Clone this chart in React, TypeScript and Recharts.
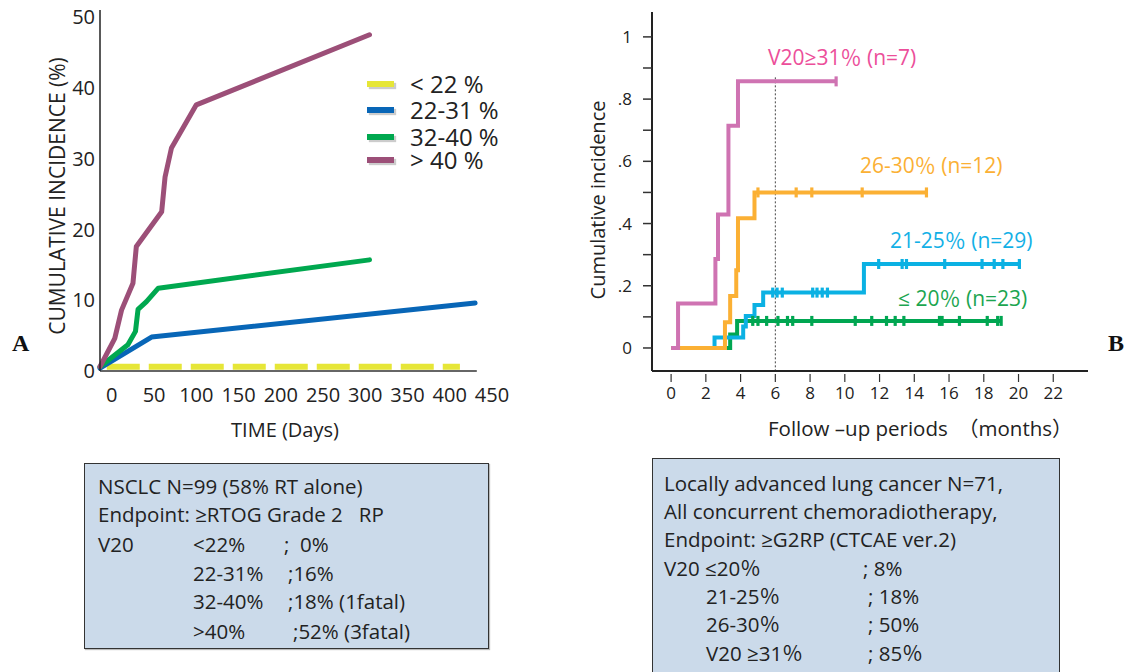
import React from 'react'
import { LineChart, Line, XAxis, YAxis, ReferenceLine } from 'recharts'

const FONT = "'Open Sans', 'Noto Sans CJK JP', sans-serif"

// ---- Panel A: cumulative incidence (%) vs days ----
const dayTicks = [0, 50, 100, 150, 200, 250, 300, 350, 400, 450]
const pctTicks = [0, 10, 20, 30, 40, 50]

const under22Days = [-6, 412]
const under22Inc = [0.6, 0.6]
const v22to31Days = [-14, 47, 430]
const v22to31Inc = [0.4, 4.8, 9.6]
const v32to40Days = [-14, 19, 28, 31, 41, 55, 305]
const v32to40Inc = [0.6, 3.7, 5.6, 8.7, 9.8, 11.7, 15.7]
const over40Days = [-14, 3.5, 11.5, 25, 29, 59, 63, 70.6, 100, 305]
const over40Inc = [0.6, 4.6, 8.6, 12.4, 17.6, 22.5, 27.4, 31.5, 37.6, 47.5]

const legendLabels = ['< 22 %', '22-31 %', '32-40 %', '> 40 %']
const legendColors = ['#E6E637', '#0866B7', '#00A84F', '#9C4F78']

// ---- Panel B: Kaplan-Meier style cumulative incidence vs months ----
const monthTicks = [0, 2, 4, 6, 8, 10, 12, 14, 16, 18, 20, 22]
const incTicks = [0, 0.1, 0.2, 0.3, 0.4, 0.5, 0.6, 0.7, 0.8, 0.9, 1]

const pinkTimes = [0, 0.4, 2.55, 2.7, 3.3, 3.85]
const pinkValues = [0, 0.143, 0.286, 0.429, 0.714, 0.857]
const pinkCensor = [9.5]

const orangeTimes = [0, 3.1, 3.4, 3.75, 3.85, 4.8]
const orangeValues = [0, 0.083, 0.167, 0.25, 0.417, 0.5]
const orangeCensor = [5.0, 7.2, 8.1, 11.0, 14.7]

const cyanTimes = [0, 2.5, 4.15, 4.3, 4.8, 5.3, 11.1]
const cyanValues = [0, 0.034, 0.069, 0.103, 0.138, 0.178, 0.27]
const cyanCensor = [5.85, 6.1, 6.4, 8.15, 8.4, 8.7, 9.0, 11.95, 13.3, 13.55, 15.75, 17.9, 18.6, 19.1, 20.05]

const greenTimes = [0, 3.4, 3.8]
const greenValues = [0, 0.043, 0.087]
const greenCensor = [4.7, 5.0, 5.5, 6.15, 6.7, 7.0, 8.1, 10.6, 11.55, 12.4, 12.9, 13.4, 15.45, 15.6, 16.6, 18.2, 18.8, 19.0]

const zip = (xs: number[], ys: number[]) => xs.map((x, i) => ({ x, y: ys[i] }))

const kmPoints = (times: number[], values: number[], censor: number[]) => {
  const valueAt = (t: number) => {
    let v = values[0]
    times.forEach((tt, i) => { if (tt <= t) v = values[i] })
    return v
  }
  const pts = [
    ...times.map((x, i) => ({ x, y: values[i], c: false })),
    ...censor.map((x) => ({ x, y: valueAt(x), c: true })),
  ]
  return pts.sort((a, b) => a.x - b.x)
}

const censorDot = (color: string) => (props: any) => {
  const { cx, cy, payload, index } = props
  if (!payload || !payload.c) return <g key={index} />
  return <rect key={index} x={cx - 1.6} y={cy - 5} width={3.2} height={10} fill={color} />
}

const MonthTick = ({ x, y, payload }: any) => (
  <g>
    <line x1={x} x2={x} y1={y + 3} y2={y + 11} stroke="#333" strokeWidth={1.2} />
    <text x={x} y={y + 28} textAnchor="middle" fontSize={17} fill="#222" fontFamily={FONT}>
      {payload.value}
    </text>
  </g>
)

const IncTick = ({ x, y, payload }: any) => {
  const tenths = Math.round(payload.value * 10)
  const label = tenths === 10 ? '1' : tenths === 0 ? '0' : '.' + tenths
  return (
    <g>
      <line x1={x - 9} x2={x} y1={y} y2={y} stroke="#333" strokeWidth={1.5} />
      {tenths % 2 === 0 && (
        <text x={x - 20} y={y + 6} textAnchor="end" fontSize={17} fill="#222" fontFamily={FONT}>
          {label}
        </text>
      )}
    </g>
  )
}

const abs = (left: number, top: number, extra: React.CSSProperties = {}): React.CSSProperties => ({
  position: 'absolute',
  left,
  top,
  whiteSpace: 'pre',
  fontFamily: FONT,
  ...extra,
})

const rotated = (cx: number, cy: number, size: number): React.CSSProperties => ({
  position: 'absolute',
  left: cx,
  top: cy,
  transform: 'translate(-50%, -50%) rotate(-90deg)',
  whiteSpace: 'nowrap',
  fontFamily: FONT,
  fontSize: size,
  color: '#222',
  lineHeight: 1,
})

const leftRows: [string, string, string, number][] = [
  ['NSCLC N=99 (58% RT alone)', '', '', 0],
  ['Endpoint: ≥RTOG Grade 2   RP', '', '', 0],
  ['V20', '<22%', ';  0%', 199],
  ['', '22-31%', ';16%', 203],
  ['', '32-40%', ';18% (1fatal)', 203],
  ['', '>40%', ';52% (3fatal)', 208],
]
const leftRowCenters = [22, 50, 80, 109, 137, 167]

const rightRows: [string, number, string, number][] = [
  ['Locally advanced lung cancer N=71,', 11, '', 0],
  ['All concurrent chemoradiotherapy,', 11, '', 0],
  ['Endpoint: ≥G2RP (CTCAE ver.2)', 11, '', 0],
  ['V20 ≤20％', 11, '; 8%', 210],
  ['21-25％', 53, '; 18%', 215],
  ['26-30％', 53, '; 50%', 215],
  ['V20 ≥31％', 53, '; 85％', 215],
]
const rightRowCenters = [24, 52, 80, 109, 137, 165, 194]

const legendCenters = [84, 110, 137, 160]

export default function App() {
  return (
    <div style={{ position: 'absolute', left: 0, top: 0, width: 1126, height: 672, overflow: 'hidden', background: '#fff' }}>
      {/* Panel A chart */}
      <div style={{ position: 'absolute', left: 0, top: 0 }}>
        <LineChart width={520} height={450} margin={{ top: 10, right: 28, left: 0, bottom: 0 }}>
          <XAxis
            type="number"
            dataKey="x"
            domain={[-14, 450]}
            ticks={dayTicks}
            axisLine={false}
            tickLine={false}
            tickSize={0}
            tickMargin={17}
            height={79}
            interval={0}
            tick={{ fontSize: 20, fill: '#222', fontFamily: FONT }}
          />
          <YAxis
            type="number"
            domain={[0, 51]}
            ticks={pctTicks}
            width={100}
            axisLine={{ stroke: '#222', strokeWidth: 1.5 }}
            tickLine={false}
            tickSize={0}
            tickMargin={5}
            tick={{ fontSize: 20, fill: '#222', fontFamily: FONT }}
          />
          <ReferenceLine segment={[{ x: -14, y: 0 }, { x: 432, y: 0 }]} stroke="#333" strokeWidth={1.5} />
          <Line data={zip(under22Days, under22Inc)} dataKey="y" type="linear" stroke={legendColors[0]} strokeWidth={6} strokeDasharray="33 9" dot={false} activeDot={false} isAnimationActive={false} />
          <Line data={zip(v22to31Days, v22to31Inc)} dataKey="y" type="linear" stroke={legendColors[1]} strokeWidth={5} strokeLinecap="round" strokeLinejoin="round" dot={false} activeDot={false} isAnimationActive={false} />
          <Line data={zip(v32to40Days, v32to40Inc)} dataKey="y" type="linear" stroke={legendColors[2]} strokeWidth={5} strokeLinecap="round" strokeLinejoin="round" dot={false} activeDot={false} isAnimationActive={false} />
          <Line data={zip(over40Days, over40Inc)} dataKey="y" type="linear" stroke={legendColors[3]} strokeWidth={5} strokeLinecap="round" strokeLinejoin="round" dot={false} activeDot={false} isAnimationActive={false} />
        </LineChart>
      </div>

      {/* Panel A legend */}
      {legendLabels.map((label, i) => (
        <div key={label} style={abs(367, legendCenters[i] - 12, { height: 24, display: 'flex', alignItems: 'center' })}>
          <div style={{ width: 27, height: 6, background: legendColors[i], boxShadow: '2px 2px 1px #ccc' }} />
          <div style={{ marginLeft: 16, fontSize: 24, color: '#222', lineHeight: '24px', height: 24 }}>{label}</div>
        </div>
      ))}

      <div style={rotated(57, 196, 21)}>CUMULATIVE INCIDENCE (%)</div>
      <div style={abs(285, 430, { transform: 'translate(-50%, -50%)', fontSize: 20, color: '#222', lineHeight: 1 })}>TIME (Days)</div>
      <div style={abs(12, 331, { fontFamily: "'Liberation Serif', serif", fontWeight: 'bold', fontSize: 24, lineHeight: '24px', color: '#111' })}>A</div>

      {/* Panel B chart */}
      <div style={{ position: 'absolute', left: 560, top: 0 }}>
        <LineChart width={566} height={450} margin={{ top: 12, right: 38, left: 0, bottom: 0 }}>
          <XAxis
            type="number"
            dataKey="x"
            domain={[-1.1, 24]}
            ticks={monthTicks}
            interval={0}
            axisLine={{ stroke: '#222', strokeWidth: 2 }}
            tickLine={false}
            tickSize={0}
            tickMargin={0}
            height={79}
            tick={<MonthTick />}
          />
          <YAxis
            type="number"
            domain={[-0.074, 1.08]}
            ticks={incTicks}
            interval={0}
            width={92}
            axisLine={{ stroke: '#222', strokeWidth: 2 }}
            tickLine={false}
            tickSize={0}
            tickMargin={0}
            tick={<IncTick />}
          />
          <ReferenceLine segment={[{ x: 6, y: 0.87 }, { x: 6, y: -0.074 }]} stroke="#444" strokeWidth={1} strokeDasharray="2 2" />
          <Line data={kmPoints(greenTimes, greenValues, greenCensor)} dataKey="y" type="stepAfter" stroke="#00A651" strokeWidth={4} dot={censorDot('#00A651')} activeDot={false} isAnimationActive={false} />
          <Line data={kmPoints(cyanTimes, cyanValues, cyanCensor)} dataKey="y" type="stepAfter" stroke="#0BB1E3" strokeWidth={4} dot={censorDot('#0BB1E3')} activeDot={false} isAnimationActive={false} />
          <Line data={kmPoints(orangeTimes, orangeValues, orangeCensor)} dataKey="y" type="stepAfter" stroke="#FBB034" strokeWidth={4} dot={censorDot('#FBB034')} activeDot={false} isAnimationActive={false} />
          <Line data={kmPoints(pinkTimes, pinkValues, pinkCensor)} dataKey="y" type="stepAfter" stroke="#CF73B2" strokeWidth={4} dot={censorDot('#CF73B2')} activeDot={false} isAnimationActive={false} />
        </LineChart>
      </div>

      {/* Panel B annotations */}
      <div style={abs(768, 57 - 12, { fontSize: 21, lineHeight: '24px', color: '#EC4E9A' })}>V20≥31％ (n=7)</div>
      <div style={abs(860, 165 - 12, { fontSize: 21, lineHeight: '24px', color: '#FBB034' })}>26-30％ (n=12)</div>
      <div style={abs(890, 240 - 12, { fontSize: 21, lineHeight: '24px', color: '#12B0E6' })}>21-25％ (n=29)</div>
      <div style={abs(898, 298 - 12, { fontSize: 21, lineHeight: '24px', color: '#1CA550' })}>≤ 20％ (n=23)</div>

      <div style={rotated(598, 200, 20)}>Cumulative incidence</div>
      <div style={abs(768, 428, { transform: 'translateY(-50%)', fontSize: 20.5, color: '#222', lineHeight: 1 })}>Follow –up periods　（months）</div>
      <div style={abs(1108, 331, { fontFamily: "'Liberation Serif', serif", fontWeight: 'bold', fontSize: 24, lineHeight: '24px', color: '#111' })}>B</div>

      {/* Left summary box */}
      <div style={{ position: 'absolute', left: 84, top: 463, width: 405, height: 186, boxSizing: 'border-box', border: '1.5px solid #333', background: '#CBDAEA', boxShadow: '1px 1px 1px #bbb' }}>
        {leftRows.map(([a, b, c, cx], i) => (
          <div key={i} style={{ position: 'absolute', left: 0, top: leftRowCenters[i] - 14, height: 28, lineHeight: '28px', fontSize: 20.5, fontFamily: FONT, color: '#222', whiteSpace: 'pre' }}>
            <span style={{ position: 'absolute', left: 13 }}>{a}</span>
            {b && <span style={{ position: 'absolute', left: 108 }}>{b}</span>}
            {c && <span style={{ position: 'absolute', left: cx }}>{c}</span>}
          </div>
        ))}
      </div>

      {/* Right summary box */}
      <div style={{ position: 'absolute', left: 652, top: 458, width: 408, height: 240, boxSizing: 'border-box', border: '1.5px solid #333', background: '#CBDAEA' }}>
        {rightRows.map(([a, ax, c, cx], i) => (
          <div key={i} style={{ position: 'absolute', left: 0, top: rightRowCenters[i] - 14, height: 28, lineHeight: '28px', fontSize: 20.5, fontFamily: FONT, color: '#222', whiteSpace: 'pre' }}>
            <span style={{ position: 'absolute', left: ax }}>{a}</span>
            {c && <span style={{ position: 'absolute', left: cx }}>{c}</span>}
          </div>
        ))}
      </div>
    </div>
  )
}
